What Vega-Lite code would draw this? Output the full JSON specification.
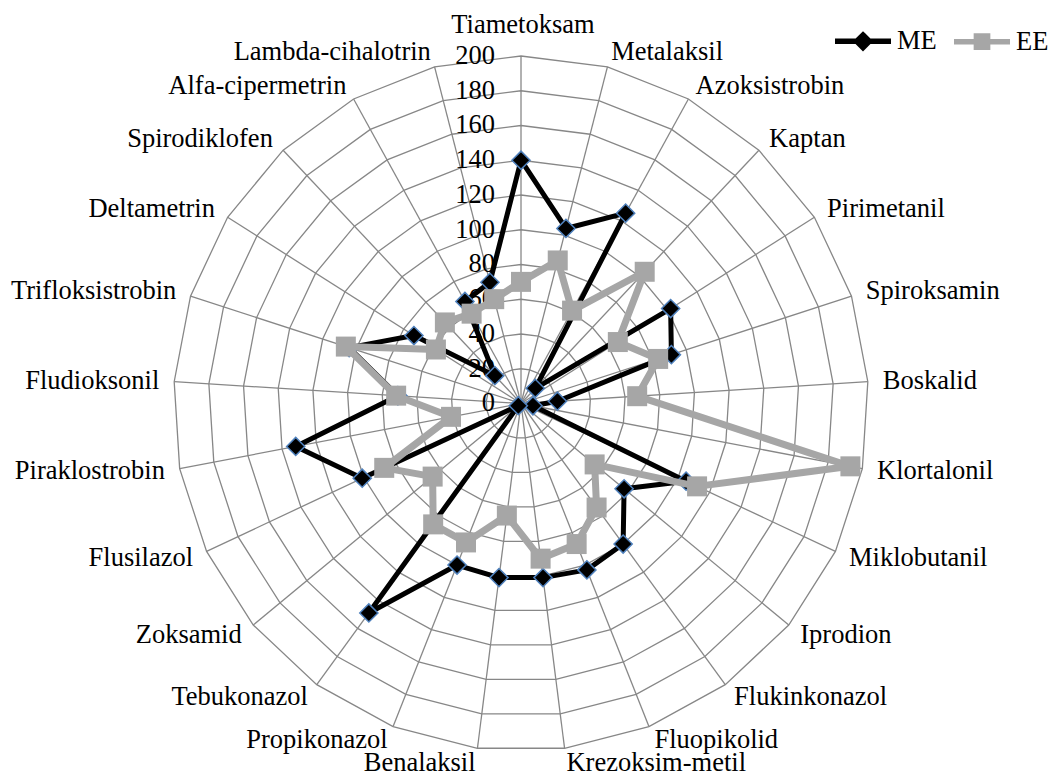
{
  "$schema": "https://vega.github.io/schema/vega-lite/v6.json",
  "width": 1054,
  "height": 776,
  "padding": 0,
  "autosize": {"type": "none"},
  "background": "white",
  "config": {"view": {"stroke": null}, "font": "Liberation Serif"},
  "datasets": {
    "chem": [
      {"i": 0, "cat": "Tiametoksam", "ME": 140, "EE": 70},
      {"i": 1, "cat": "Metalaksil", "ME": 104, "EE": 85},
      {"i": 2, "cat": "Azoksistrobin", "ME": 125, "EE": 61},
      {"i": 3, "cat": "Kaptan", "ME": 12, "EE": 104},
      {"i": 4, "cat": "Pirimetanil", "ME": 102, "EE": 66},
      {"i": 5, "cat": "Spiroksamin", "ME": 91, "EE": 83},
      {"i": 6, "cat": "Boskalid", "ME": 21, "EE": 67},
      {"i": 7, "cat": "Klortalonil", "ME": 7, "EE": 193},
      {"i": 8, "cat": "Miklobutanil", "ME": 105, "EE": 112},
      {"i": 9, "cat": "Iprodion", "ME": 77, "EE": 55},
      {"i": 10, "cat": "Flukinkonazol", "ME": 100, "EE": 74},
      {"i": 11, "cat": "Fluopikolid", "ME": 103, "EE": 87},
      {"i": 12, "cat": "Krezoksim-metil", "ME": 101, "EE": 90},
      {"i": 13, "cat": "Benalaksil", "ME": 101, "EE": 65},
      {"i": 14, "cat": "Propikonazol", "ME": 100, "EE": 86},
      {"i": 15, "cat": "Tebukonazol", "ME": 149, "EE": 86},
      {"i": 16, "cat": "Zoksamid", "ME": 2, "EE": 66},
      {"i": 17, "cat": "Flusilazol", "ME": 101, "EE": 87},
      {"i": 18, "cat": "Piraklostrobin", "ME": 132, "EE": 41},
      {"i": 19, "cat": "Fludioksonil", "ME": 71, "EE": 72},
      {"i": 20, "cat": "Trifloksistrobin", "ME": 104, "EE": 106},
      {"i": 21, "cat": "Deltametrin", "ME": 73, "EE": 58},
      {"i": 22, "cat": "Spirodiklofen", "ME": 22, "EE": 64},
      {"i": 23, "cat": "Alfa-cipermetrin", "ME": 67, "EE": 59},
      {"i": 24, "cat": "Lambda-cihalotrin", "ME": 72, "EE": 62}
    ],
    "ticks": [
      {"t": 0}, {"t": 20}, {"t": 40}, {"t": 60}, {"t": 80}, {"t": 100},
      {"t": 120}, {"t": 140}, {"t": 160}, {"t": 180}, {"t": 200}
    ],
    "grid": [
      {"k": [0,1,2,3,4,5,6,7,8,9,10,11,12,13,14,15,16,17,18,19,20,21,22,23,24],
       "lv": [20,40,60,80,100,120,140,160,180,200]}
    ]
  },
  "encoding": {
    "x": {"field": "px", "type": "quantitative", "scale": {"domain": [-299.86, 306.76], "nice": false, "zero": false}, "axis": null},
    "y": {"field": "py", "type": "quantitative", "scale": {"domain": [-214.39, 232.23], "nice": false, "zero": false}, "axis": null}
  },
  "layer": [
    {
      "data": {"name": "grid"},
      "transform": [
        {"flatten": ["k"]},
        {"flatten": ["lv"]},
        {"calculate": "datum.k*2*PI/25", "as": "ang"},
        {"calculate": "datum.lv*sin(datum.ang)", "as": "px"},
        {"calculate": "datum.lv*cos(datum.ang)", "as": "py"}
      ],
      "mark": {"type": "line", "interpolate": "linear-closed", "stroke": "#878787", "strokeWidth": 1.3},
      "encoding": {
        "detail": {"field": "lv", "type": "nominal"},
        "order": {"field": "k", "type": "quantitative"}
      }
    },
    {
      "data": {"name": "chem"},
      "transform": [
        {"calculate": "datum.i*2*PI/25", "as": "ang"},
        {"calculate": "0", "as": "px"},
        {"calculate": "0", "as": "py"},
        {"calculate": "200*sin(datum.ang)", "as": "px2"},
        {"calculate": "200*cos(datum.ang)", "as": "py2"}
      ],
      "mark": {"type": "rule", "stroke": "#878787", "strokeWidth": 1.3},
      "encoding": {
        "x2": {"field": "px2"},
        "y2": {"field": "py2"}
      }
    },
    {
      "data": {"name": "ticks"},
      "transform": [
        {"calculate": "0", "as": "px"},
        {"calculate": "datum.t", "as": "py"}
      ],
      "mark": {"type": "text", "align": "right", "baseline": "middle", "dx": -26, "font": "Liberation Serif", "fontSize": 26.5, "color": "#000000"},
      "encoding": {"text": {"field": "t", "type": "quantitative"}}
    },
    {
      "data": {"name": "chem"},
      "transform": [
        {"calculate": "datum.i*2*PI/25", "as": "ang"},
        {"filter": "sin(datum.ang) > 0.05"},
        {"calculate": "208.6*sin(datum.ang)", "as": "px"},
        {"calculate": "208.6*cos(datum.ang)", "as": "py"}
      ],
      "mark": {"type": "text", "align": "left", "baseline": "middle", "font": "Liberation Serif", "fontSize": 26.5, "color": "#000000"},
      "encoding": {"text": {"field": "cat", "type": "nominal"}}
    },
    {
      "data": {"name": "chem"},
      "transform": [
        {"calculate": "datum.i*2*PI/25", "as": "ang"},
        {"filter": "sin(datum.ang) < -0.05"},
        {"calculate": "208.6*sin(datum.ang)", "as": "px"},
        {"calculate": "208.6*cos(datum.ang)", "as": "py"}
      ],
      "mark": {"type": "text", "align": "right", "baseline": "middle", "font": "Liberation Serif", "fontSize": 26.5, "color": "#000000"},
      "encoding": {"text": {"field": "cat", "type": "nominal"}}
    },
    {
      "data": {"name": "chem"},
      "transform": [
        {"calculate": "datum.i*2*PI/25", "as": "ang"},
        {"filter": "abs(sin(datum.ang)) <= 0.05"},
        {"calculate": "208.6*sin(datum.ang)", "as": "px"},
        {"calculate": "208.6*cos(datum.ang)", "as": "py"}
      ],
      "mark": {"type": "text", "align": "center", "baseline": "middle", "dy": -16, "dx": 2, "font": "Liberation Serif", "fontSize": 26.5, "color": "#000000"},
      "encoding": {"text": {"field": "cat", "type": "nominal"}}
    },
    {
      "data": {"name": "chem"},
      "transform": [
        {"fold": ["ME", "EE"], "as": ["series", "value"]},
        {"filter": "datum.series == 'ME'"},
        {"calculate": "datum.i*2*PI/25", "as": "ang"},
        {"calculate": "datum.value*sin(datum.ang)", "as": "px"},
        {"calculate": "datum.value*cos(datum.ang)", "as": "py"}
      ],
      "mark": {"type": "line", "interpolate": "linear-closed", "stroke": "#000000", "strokeWidth": 5, "strokeJoin": "round"},
      "encoding": {"order": {"field": "i", "type": "quantitative"}}
    },
    {
      "data": {"name": "chem"},
      "transform": [
        {"fold": ["ME", "EE"], "as": ["series", "value"]},
        {"filter": "datum.series == 'ME'"},
        {"calculate": "datum.i*2*PI/25", "as": "ang"},
        {"calculate": "datum.value*sin(datum.ang)", "as": "px"},
        {"calculate": "datum.value*cos(datum.ang)", "as": "py"}
      ],
      "mark": {"type": "point", "shape": "diamond", "filled": true, "fill": "#000000", "stroke": "#4F81BD", "strokeWidth": 1.5, "size": 330, "opacity": 1}
    },
    {
      "data": {"name": "chem"},
      "transform": [
        {"fold": ["ME", "EE"], "as": ["series", "value"]},
        {"filter": "datum.series == 'EE'"},
        {"calculate": "datum.i*2*PI/25", "as": "ang"},
        {"calculate": "datum.value*sin(datum.ang)", "as": "px"},
        {"calculate": "datum.value*cos(datum.ang)", "as": "py"}
      ],
      "mark": {"type": "line", "interpolate": "linear-closed", "stroke": "#A6A6A6", "strokeWidth": 7, "strokeJoin": "round"},
      "encoding": {"order": {"field": "i", "type": "quantitative"}}
    },
    {
      "data": {"name": "chem"},
      "transform": [
        {"fold": ["ME", "EE"], "as": ["series", "value"]},
        {"filter": "datum.series == 'EE'"},
        {"calculate": "datum.i*2*PI/25", "as": "ang"},
        {"calculate": "datum.value*sin(datum.ang)", "as": "px"},
        {"calculate": "datum.value*cos(datum.ang)", "as": "py"}
      ],
      "mark": {"type": "point", "shape": "square", "filled": true, "fill": "#A6A6A6", "strokeWidth": 0, "size": 400, "opacity": 1}
    },
    {
      "data": {"name": "chem"},
      "transform": [
        {"fold": ["ME", "EE"], "as": ["series", "value"]},
        {"filter": "false"},
        {"calculate": "0", "as": "px"},
        {"calculate": "0", "as": "py"}
      ],
      "mark": {"type": "point", "filled": true},
      "encoding": {
        "fill": {
          "field": "series", "type": "nominal",
          "scale": {"domain": ["ME", "EE"], "range": ["#000000", "#A6A6A6"]},
          "legend": {"title": null, "orient": "none", "legendX": 846, "legendY": 24, "direction": "horizontal", "symbolSize": 784, "symbolStrokeWidth": 5.5, "labelFont": "Liberation Serif", "labelFontSize": 26.5, "labelColor": "#000000", "labelOffset": 17, "columnPadding": 6, "padding": 0, "symbolOpacity": 1}
        },
        "stroke": {
          "field": "series", "type": "nominal",
          "scale": {"domain": ["ME", "EE"], "range": ["#000000", "#A6A6A6"]},
          "legend": {"title": null, "orient": "none", "legendX": 846, "legendY": 24, "direction": "horizontal", "symbolSize": 784, "symbolStrokeWidth": 5.5, "labelFont": "Liberation Serif", "labelFontSize": 26.5, "labelColor": "#000000", "labelOffset": 17, "columnPadding": 6, "padding": 0, "symbolOpacity": 1}
        },
        "shape": {
          "field": "series", "type": "nominal",
          "scale": {"domain": ["ME", "EE"], "range": ["M-2,0H-0.45M0.45,0H2M0,-0.45L0.45,0L0,0.45L-0.45,0Z", "M-2,0H2M-0.4,-0.4H0.4V0.4H-0.4Z"]},
          "legend": {"title": null, "orient": "none", "legendX": 846, "legendY": 24, "direction": "horizontal", "symbolSize": 784, "symbolStrokeWidth": 5.5, "labelFont": "Liberation Serif", "labelFontSize": 26.5, "labelColor": "#000000", "labelOffset": 17, "columnPadding": 6, "padding": 0, "symbolOpacity": 1}
        }
      }
    }
  ]
}
